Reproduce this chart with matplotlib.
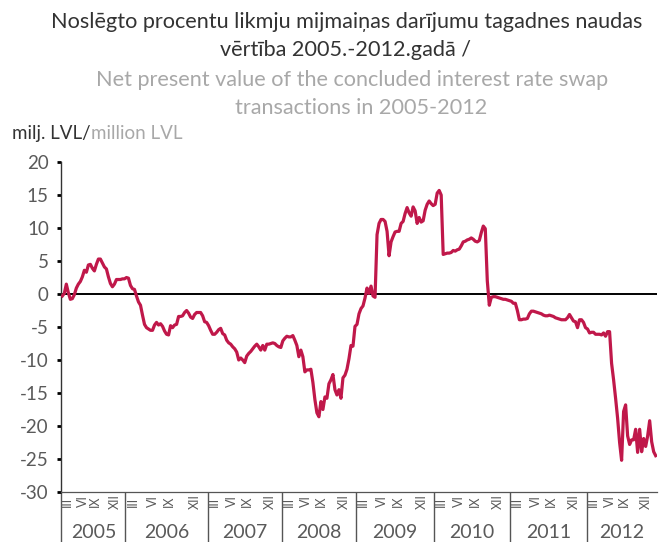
import numpy as np
import matplotlib
matplotlib.use('Agg')
import matplotlib.pyplot as plt

plt.rcParams['font.family'] = ['Lato', 'DejaVu Sans']

# NPV, milj. LVL -- one list per year (observation count differs per year)
nav_2005 = [-0.3, 0.1, 1.5, 0.2, -0.8, -0.7, -0.1, 0.9, 1.5, 1.9, 2.6, 3.6, 3.3, 4.4, 4.5, 3.9,
            3.5, 4.5, 5.3, 5.3, 4.7, 4.1, 3.8, 2.6, 1.6, 1.1, 1.5, 2.2, 2.2, 2.2, 2.3, 2.3]
nav_2006 = [2.5, 2.4, 1.3, 0.8, 0.7, -0.3, -1.2, -1.7, -3.2, -4.6, -5.1, -5.3, -5.5, -5.5,
            -4.7, -4.3, -4.7, -4.5, -4.9, -5.6, -6.1, -6.2, -4.8, -5.1, -4.7, -4.6, -3.4, -3.4,
            -3.3, -2.8, -2.5, -2.9, -3.5, -3.7, -3.1, -2.8, -2.8, -2.8, -3.3, -4.2, -4.3]
nav_2007 = [-4.8, -5.5, -6.1, -6.1, -5.8, -5.4, -5.2, -6.0, -6.2, -7.0, -7.4, -7.6, -8.0,
            -8.3, -8.8, -10.0, -9.7, -10.0, -10.4, -9.4, -9.0, -8.7, -8.3, -7.9, -7.6, -8.0,
            -8.5, -7.8, -8.5, -7.6, -7.6, -7.5, -7.4, -7.5, -7.8, -8.0, -8.1]
nav_2008 = [-7.1, -6.7, -6.4, -6.5, -6.5, -6.3, -7.0, -7.8, -9.5, -8.5, -9.5, -11.8, -11.5,
            -11.5, -11.4, -13.4, -16.0, -18.0, -18.6, -16.3, -17.5, -15.6, -15.8, -13.6,
            -13.0, -12.2, -14.5, -15.3, -14.5, -15.8, -12.7, -12.3, -11.4, -9.8, -7.8, -7.9,
            -4.9]
nav_2009 = [-4.6, -3.0, -2.2, -1.8, -0.6, 0.9, 0.1, 1.2, -0.3, -0.5, 9.0, 10.7, 11.3, 11.3,
            11.0, 9.5, 5.8, 7.9, 8.7, 9.4, 9.5, 9.5, 10.7, 11.0, 12.2, 13.1, 12.3, 11.8, 13.2,
            12.6, 10.7, 11.6, 10.9, 11.1, 12.7, 13.6, 14.1, 13.7, 13.4]
nav_2010 = [13.6, 15.3, 15.7, 15.0, 6.0, 6.1, 6.2, 6.2, 6.3, 6.6, 6.5, 6.7, 6.8, 7.3, 7.9,
            8.0, 8.2, 8.3, 8.5, 8.3, 8.0, 7.9, 8.1, 9.3, 10.3, 9.9, 2.0, -1.7, -0.5, -0.4,
            -0.4, -0.5, -0.6, -0.7, -0.8, -0.8, -0.9, -1.0]
nav_2011 = [-1.1, -1.4, -1.4, -2.5, -3.9, -3.9, -3.8, -3.8, -3.7, -3.0, -2.6, -2.6, -2.7,
            -2.8, -2.9, -3.0, -3.2, -3.3, -3.3, -3.2, -3.3, -3.4, -3.6, -3.7, -3.8, -3.9,
            -3.9, -3.9, -3.6, -3.1, -3.6, -4.1, -4.2, -5.1, -3.9, -3.9, -4.3, -5.1]
nav_2012 = [-5.3, -5.9, -5.8, -5.8, -6.1, -6.1, -6.1, -6.2, -5.9, -6.4, -5.7, -5.7, -10.5,
            -13.0, -15.8, -18.8, -22.5, -25.2, -17.8, -16.8, -21.5, -22.8, -22.1, -22.1,
            -20.5, -24.0, -20.5, -23.9, -21.9, -23.1, -21.5, -19.2, -22.4, -23.9, -24.5]

years = ['2005', '2006', '2007', '2008', '2009', '2010', '2011', '2012']
months = ['III', 'VI', 'IX', 'XII']
month_pos = [0.09, 0.33, 0.53, 0.84]  # share of the year block
yticks = [20, 15, 10, 5, 0, -5, -10, -15, -20, -25, -30]

series = [nav_2005, nav_2006, nav_2007, nav_2008, nav_2009, nav_2010, nav_2011, nav_2012]
counts = [len(s) for s in series]
bounds = np.concatenate([[0], np.cumsum(counts)])
nav = np.concatenate(series)
x = np.arange(len(nav)) + 0.5

dark = '#333333'
light = '#a8a8a8'
grey = '#5a5a5a'
red = '#c0184a'

fig = plt.figure(figsize=(6.65, 5.42), dpi=100)
ax = fig.add_axes([0.0922, 0.0923, 0.8953, 0.6087])

ax.plot(x, nav, color=red, linewidth=2.3, solid_joinstyle='round', zorder=3)
ax.axhline(0, color='black', linewidth=1.4, zorder=2)

ax.set_xlim(0, bounds[-1])
ax.set_ylim(-30, 20)

for side in ['top', 'right']:
    ax.spines[side].set_visible(False)
ax.spines['left'].set_color('#333333')
ax.spines['left'].set_linewidth(1.0)
ax.spines['bottom'].set_color('#555555')
ax.spines['bottom'].set_linewidth(0.9)

ax.set_yticks(yticks)
ax.set_yticklabels([str(t) for t in yticks])
ax.tick_params(axis='y', direction='out', length=3, width=2, color='black',
               labelsize=13.5, labelcolor=grey, pad=6)

# year separators as long ticks
ax.set_xticks(bounds[:-1])
ax.tick_params(axis='x', direction='out', length=36, width=1, color='#555555',
               labelbottom=False)

tr = ax.get_xaxis_transform()
for i, yr in enumerate(years):
    a, b = bounds[i], bounds[i + 1]
    ax.text((a + b) / 2, -0.122, yr, transform=tr, ha='center', va='center',
            fontsize=14, color=grey)
    for m, p in zip(months, month_pos):
        ax.text(a + p * (b - a), -0.029, m, transform=tr, ha='center', va='center',
                rotation=90, fontsize=9, color=grey)

# titles
tkw = dict(ha='center', va='center', fontsize=15.6)
fig.text(0.521, 0.959, 'Noslēgto procentu likmju mijmaiņas darījumu tagadnes naudas',
         color=dark, **tkw)
fig.text(0.519, 0.907, 'vērtība 2005.-2012.gadā /', color=dark, **tkw)
fig.text(0.529, 0.852, 'Net present value of the concluded interest rate swap',
         color=light, **tkw)
fig.text(0.543, 0.801, 'transactions in 2005-2012', color=light, **tkw)

t1 = fig.text(0.018, 0.754, 'milj. LVL/', ha='left', va='center', fontsize=13.5,
              color=dark)
fig.canvas.draw()
bb = t1.get_window_extent().transformed(fig.transFigure.inverted())
fig.text(bb.x1, 0.754, 'million LVL', ha='left', va='center', fontsize=13.5,
         color=light)

fig.savefig('out.png', dpi=100)
